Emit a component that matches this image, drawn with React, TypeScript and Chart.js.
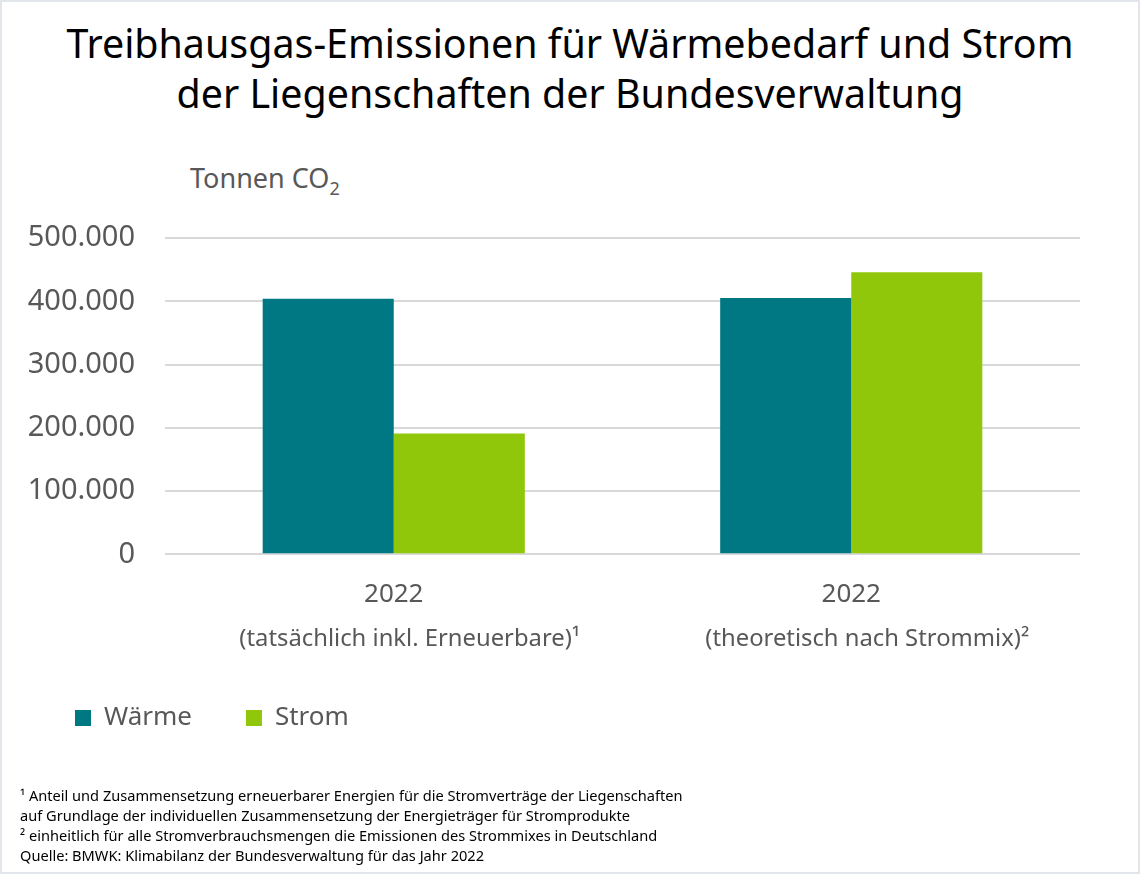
import React, { useEffect, useRef } from 'react'
import Chart from 'chart.js/auto'

// categories (year + explanation), series, ticks
const categoryYears = ['2022', '2022']
const categoryNotes = ['(tatsächlich inkl. Erneuerbare)¹', '(theoretisch nach Strommix)²']
const seriesNames = ['Wärme', 'Strom']
const waerme = [404000, 405000]
const strom = [191000, 446000]
const seriesColors = ['#007883', '#90c70b']
const yTicks = [0, 100000, 200000, 300000, 400000, 500000]

const titleLines = [
  'Treibhausgas-Emissionen für Wärmebedarf und Strom',
  'der Liegenschaften der Bundesverwaltung',
]
const footnotes = [
  '¹ Anteil und Zusammensetzung erneuerbarer Energien für die Stromverträge der Liegenschaften',
  'auf Grundlage der individuellen Zusammensetzung der Energieträger für Stromprodukte',
  '² einheitlich für alle Stromverbrauchsmengen die Emissionen des Strommixes in Deutschland',
  'Quelle: BMWK: Klimabilanz der Bundesverwaltung für das Jahr 2022',
]

const FONT = "'Noto Sans', sans-serif"
const GREY = '#585858'

const fmt = (v: number) => String(v).replace(/\B(?=(\d{3})+(?!\d))/g, '.')

const App = () => {
  const chartRef = useRef<HTMLCanvasElement>(null)

  useEffect(() => {
    if (!chartRef.current) return
    const ctx = chartRef.current.getContext('2d')
    if (!ctx) return

    const chart = new Chart(ctx, {
      type: 'bar',
      data: {
        labels: categoryYears,
        datasets: [
          {
            label: seriesNames[0],
            data: waerme,
            backgroundColor: seriesColors[0],
            categoryPercentage: 0.573,
            barPercentage: 1,
          },
          {
            label: seriesNames[1],
            data: strom,
            backgroundColor: seriesColors[1],
            categoryPercentage: 0.573,
            barPercentage: 1,
          },
        ],
      },
      options: {
        animation: false,
        responsive: true,
        maintainAspectRatio: false,
        layout: {
          padding: { top: 238, right: 60, bottom: 133, left: 21 },
        },
        plugins: {
          title: { display: false },
          tooltip: { enabled: false },
          legend: {
            display: true,
            position: 'bottom',
            align: 'start',
            labels: {
              boxWidth: 16,
              boxHeight: 16,
              padding: 54,
              color: GREY,
              font: { size: 26, family: FONT },
            },
          },
        },
        scales: {
          x: {
            grid: { display: false, drawTicks: false },
            border: { display: false },
            ticks: {
              color: GREY,
              padding: 25,
              maxRotation: 0,
              font: { size: 26, family: FONT, lineHeight: 1.2 },
            },
            afterFit: (scale: any) => {
              scale.height = 60
            },
          },
          x2: {
            type: 'category',
            labels: categoryNotes,
            position: 'bottom',
            offset: true,
            grid: { display: false, drawTicks: false },
            border: { display: false },
            ticks: {
              color: GREY,
              padding: 11,
              labelOffset: 16,
              maxRotation: 0,
              font: { size: 23.8, family: FONT, lineHeight: 1.2 },
            },
            afterFit: (scale: any) => {
              scale.height = 36.7
            },
          },
          y: {
            min: 0,
            max: 500000,
            afterBuildTicks: (scale: any) => {
              scale.ticks = yTicks.map((v) => ({ value: v }))
            },
            grid: { color: '#d9d9d9', lineWidth: 2, drawTicks: false },
            border: { display: false },
            ticks: {
              color: GREY,
              padding: 30,
              font: { size: 29, family: FONT },
              callback: (v: any) => fmt(Number(v)),
            },
            afterFit: (scale: any) => {
              scale.width = 144
            },
          },
        },
      },
    })

    return () => {
      chart.destroy()
    }
  }, [])

  return (
    <div
      style={{
        position: 'absolute',
        left: 0,
        top: 0,
        width: 1140,
        height: 874,
        background: '#fff',
        boxShadow: 'inset 0 0 0 2px #e2e6ea',
        fontFamily: FONT,
      }}
    >
      <div
        style={{
          position: 'absolute',
          left: 0,
          top: 18,
          width: 1140,
          textAlign: 'center',
          fontSize: 39.4,
          lineHeight: '50px',
          color: '#000',
        }}
      >
        {titleLines.map((t) => (
          <div key={t}>{t}</div>
        ))}
      </div>
      <div
        style={{
          position: 'absolute',
          left: 190,
          top: 164,
          fontSize: 27,
          lineHeight: '27px',
          color: GREY,
          whiteSpace: 'nowrap',
        }}
      >
        Tonnen CO
        <span style={{ fontSize: 18, position: 'relative', top: 7 }}>2</span>
      </div>
      <div style={{ position: 'absolute', left: 0, top: 0, width: 1140, height: 874 }}>
        <canvas ref={chartRef}></canvas>
      </div>
      <div
        style={{
          position: 'absolute',
          left: 20,
          top: 785,
          fontSize: 14.6,
          lineHeight: '20px',
          color: '#000',
        }}
      >
        {footnotes.map((t) => (
          <div key={t}>{t}</div>
        ))}
      </div>
    </div>
  )
}

export default App
